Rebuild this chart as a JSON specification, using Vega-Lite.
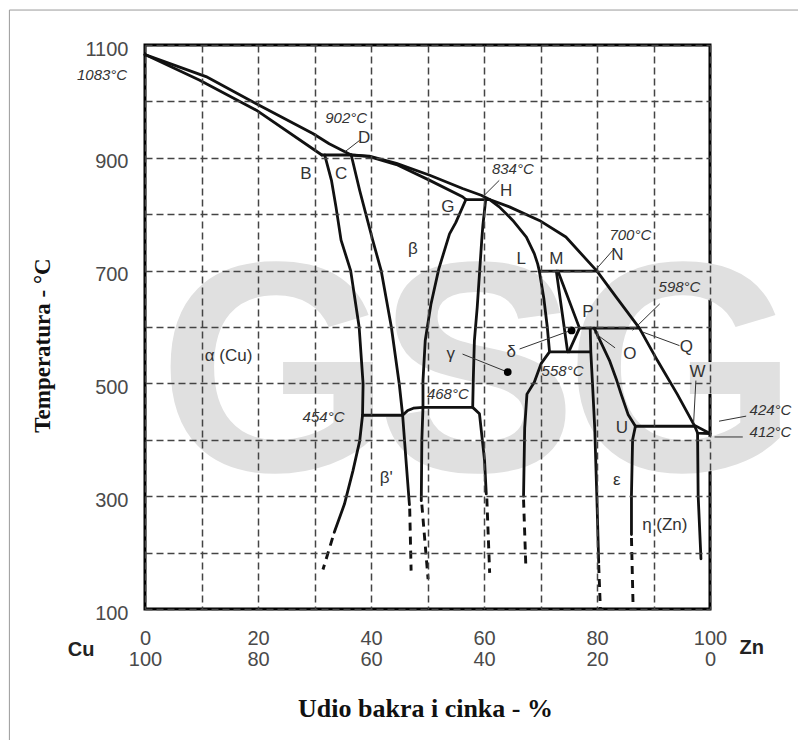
{
 "$schema": "https://vega.github.io/schema/vega-lite/v6.json",
 "width": 565,
 "height": 564,
 "autosize": {"type": "none"},
 "padding": {"left": 145, "top": 45, "right": 88, "bottom": 131},
 "background": "#ffffff",
 "config": {"view": {"stroke": "#000000", "strokeWidth": 3}, "text": {"font": "Liberation Sans"}},
 "datasets": {
  "wm": [{"ch": "G", "x": 23.0, "t": 345}, {"ch": "S", "x": 58.8, "t": 345}, {"ch": "G", "x": 95.0, "t": 345}],
  "border": [{"x": -24, "x2": 125, "t": 1162, "t2": -250}],
  "solid": [
   {"id": "liq", "o": 0, "x": 0, "t": 1083}, {"id": "liq", "o": 1, "x": 10.8, "t": 1044}, {"id": "liq", "o": 2, "x": 19.7, "t": 996}, {"id": "liq", "o": 3, "x": 29.7, "t": 943}, {"id": "liq", "o": 4, "x": 32.6, "t": 925}, {"id": "liq", "o": 5, "x": 36.5, "t": 905}, {"id": "liq", "o": 6, "x": 39.7, "t": 903}, {"id": "liq", "o": 7, "x": 44.5, "t": 890}, {"id": "liq", "o": 8, "x": 50.4, "t": 869}, {"id": "liq", "o": 9, "x": 56.2, "t": 845.5}, {"id": "liq", "o": 10, "x": 59.5, "t": 833.6}, {"id": "liq", "o": 11, "x": 61.0, "t": 826}, {"id": "liq", "o": 12, "x": 64.5, "t": 813}, {"id": "liq", "o": 13, "x": 69.8, "t": 789}, {"id": "liq", "o": 14, "x": 74.5, "t": 759.5}, {"id": "liq", "o": 15, "x": 80.0, "t": 699}, {"id": "liq", "o": 16, "x": 83.4, "t": 653}, {"id": "liq", "o": 17, "x": 87.5, "t": 598}, {"id": "liq", "o": 18, "x": 90.7, "t": 540.5}, {"id": "liq", "o": 19, "x": 94.2, "t": 481}, {"id": "liq", "o": 20, "x": 97.2, "t": 426}, {"id": "liq", "o": 21, "x": 100, "t": 411},
   {"id": "sa", "o": 0, "x": 0, "t": 1083}, {"id": "sa", "o": 1, "x": 9.6, "t": 1038}, {"id": "sa", "o": 2, "x": 19.7, "t": 984.5}, {"id": "sa", "o": 3, "x": 31.3, "t": 905},
   {"id": "h902", "o": 0, "x": 31.3, "t": 905}, {"id": "h902", "o": 1, "x": 36.5, "t": 905},
   {"id": "sb", "o": 0, "x": 36.5, "t": 905}, {"id": "sb", "o": 1, "x": 39.7, "t": 902}, {"id": "sb", "o": 2, "x": 44.5, "t": 888}, {"id": "sb", "o": 3, "x": 50.4, "t": 860}, {"id": "sb", "o": 4, "x": 56.2, "t": 831}, {"id": "sb", "o": 5, "x": 56.8, "t": 826},
   {"id": "ab", "o": 0, "x": 31.8, "t": 905}, {"id": "ab", "o": 1, "x": 33.0, "t": 860}, {"id": "ab", "o": 2, "x": 33.8, "t": 813}, {"id": "ab", "o": 3, "x": 34.7, "t": 754}, {"id": "ab", "o": 4, "x": 36.4, "t": 700}, {"id": "ab", "o": 5, "x": 37.9, "t": 600}, {"id": "ab", "o": 6, "x": 38.6, "t": 499}, {"id": "ab", "o": 7, "x": 38.5, "t": 443.5}, {"id": "ab", "o": 8, "x": 38.0, "t": 398}, {"id": "ab", "o": 9, "x": 36.8, "t": 345}, {"id": "ab", "o": 10, "x": 35.3, "t": 286}, {"id": "ab", "o": 11, "x": 33.5, "t": 236},
   {"id": "cb", "o": 0, "x": 36.5, "t": 905}, {"id": "cb", "o": 1, "x": 38.0, "t": 842}, {"id": "cb", "o": 2, "x": 40.3, "t": 754}, {"id": "cb", "o": 3, "x": 41.8, "t": 700}, {"id": "cb", "o": 4, "x": 43.6, "t": 600}, {"id": "cb", "o": 5, "x": 45.0, "t": 499}, {"id": "cb", "o": 6, "x": 45.6, "t": 443.5}, {"id": "cb", "o": 7, "x": 46.2, "t": 363}, {"id": "cb", "o": 8, "x": 46.8, "t": 285},
   {"id": "h454", "o": 0, "x": 38.5, "t": 443.5}, {"id": "h454", "o": 1, "x": 45.6, "t": 443.5}, {"id": "h454", "o": 2, "x": 46.5, "t": 452}, {"id": "h454", "o": 3, "x": 47.5, "t": 456}, {"id": "h454", "o": 4, "x": 49.2, "t": 457.5}, {"id": "h454", "o": 5, "x": 58.0, "t": 457.5},
   {"id": "gb", "o": 0, "x": 56.8, "t": 826}, {"id": "gb", "o": 1, "x": 55.0, "t": 785}, {"id": "gb", "o": 2, "x": 53.9, "t": 765}, {"id": "gb", "o": 3, "x": 52.0, "t": 703}, {"id": "gb", "o": 4, "x": 50.6, "t": 640}, {"id": "gb", "o": 5, "x": 49.6, "t": 576}, {"id": "gb", "o": 6, "x": 49.2, "t": 505}, {"id": "gb", "o": 7, "x": 49.2, "t": 457.5}, {"id": "gb", "o": 8, "x": 49.0, "t": 400}, {"id": "gb", "o": 9, "x": 48.9, "t": 292},
   {"id": "gl", "o": 0, "x": 60.3, "t": 826}, {"id": "gl", "o": 1, "x": 59.8, "t": 780}, {"id": "gl", "o": 2, "x": 59.6, "t": 754}, {"id": "gl", "o": 3, "x": 59.2, "t": 694.5}, {"id": "gl", "o": 4, "x": 58.8, "t": 635}, {"id": "gl", "o": 5, "x": 58.3, "t": 576}, {"id": "gl", "o": 6, "x": 58.1, "t": 505}, {"id": "gl", "o": 7, "x": 58.0, "t": 457.5}, {"id": "gl", "o": 8, "x": 59.2, "t": 446}, {"id": "gl", "o": 9, "x": 60.1, "t": 363}, {"id": "gl", "o": 10, "x": 60.4, "t": 304},
   {"id": "hGH", "o": 0, "x": 56.8, "t": 826}, {"id": "hGH", "o": 1, "x": 61.0, "t": 826},
   {"id": "gr", "o": 0, "x": 61.0, "t": 826}, {"id": "gr", "o": 1, "x": 62.7, "t": 813}, {"id": "gr", "o": 2, "x": 65.1, "t": 789}, {"id": "gr", "o": 3, "x": 67.5, "t": 759.5}, {"id": "gr", "o": 4, "x": 68.9, "t": 730}, {"id": "gr", "o": 5, "x": 69.5, "t": 712}, {"id": "gr", "o": 6, "x": 69.8, "t": 699}, {"id": "gr", "o": 7, "x": 70.6, "t": 650}, {"id": "gr", "o": 8, "x": 71.2, "t": 600}, {"id": "gr", "o": 9, "x": 71.6, "t": 556}, {"id": "gr", "o": 10, "x": 70.1, "t": 535}, {"id": "gr", "o": 11, "x": 68.9, "t": 502}, {"id": "gr", "o": 12, "x": 67.6, "t": 481}, {"id": "gr", "o": 13, "x": 67.2, "t": 421}, {"id": "gr", "o": 14, "x": 67.0, "t": 300},
   {"id": "h700", "o": 0, "x": 69.8, "t": 699}, {"id": "h700", "o": 1, "x": 80.0, "t": 699},
   {"id": "m1", "o": 0, "x": 72.8, "t": 699}, {"id": "m1", "o": 1, "x": 74.8, "t": 556},
   {"id": "m2", "o": 0, "x": 73.1, "t": 699}, {"id": "m2", "o": 1, "x": 76.9, "t": 598},
   {"id": "h598", "o": 0, "x": 76.9, "t": 598}, {"id": "h598", "o": 1, "x": 87.5, "t": 598},
   {"id": "p1", "o": 0, "x": 76.9, "t": 598}, {"id": "p1", "o": 1, "x": 75.0, "t": 556},
   {"id": "h558", "o": 0, "x": 71.6, "t": 556}, {"id": "h558", "o": 1, "x": 78.8, "t": 556},
   {"id": "el", "o": 0, "x": 78.8, "t": 598}, {"id": "el", "o": 1, "x": 78.9, "t": 556}, {"id": "el", "o": 2, "x": 79.2, "t": 500}, {"id": "el", "o": 3, "x": 79.6, "t": 421}, {"id": "el", "o": 4, "x": 80.0, "t": 290}, {"id": "el", "o": 5, "x": 80.3, "t": 183},
   {"id": "ed", "o": 0, "x": 79.5, "t": 598}, {"id": "ed", "o": 1, "x": 82.2, "t": 541}, {"id": "ed", "o": 2, "x": 83.5, "t": 505}, {"id": "ed", "o": 3, "x": 84.3, "t": 480}, {"id": "ed", "o": 4, "x": 85.5, "t": 445}, {"id": "ed", "o": 5, "x": 86.8, "t": 424},
   {"id": "hU", "o": 0, "x": 86.8, "t": 424}, {"id": "hU", "o": 1, "x": 97.3, "t": 424},
   {"id": "er", "o": 0, "x": 86.8, "t": 424}, {"id": "er", "o": 1, "x": 86.3, "t": 400}, {"id": "er", "o": 2, "x": 86.1, "t": 302}, {"id": "er", "o": 3, "x": 86.1, "t": 232},
   {"id": "zt", "o": 0, "x": 97.3, "t": 424}, {"id": "zt", "o": 1, "x": 97.8, "t": 412}, {"id": "zt", "o": 2, "x": 100, "t": 411},
   {"id": "eta", "o": 0, "x": 97.8, "t": 412}, {"id": "eta", "o": 1, "x": 97.9, "t": 302}, {"id": "eta", "o": 2, "x": 98.4, "t": 189}
  ],
  "dashed": [
   {"id": "d1", "o": 0, "x": 33.2, "t": 226}, {"id": "d1", "o": 1, "x": 31.5, "t": 170},
   {"id": "d2", "o": 0, "x": 46.85, "t": 278}, {"id": "d2", "o": 1, "x": 47.1, "t": 168},
   {"id": "d3", "o": 0, "x": 49.0, "t": 285}, {"id": "d3", "o": 1, "x": 50.1, "t": 153},
   {"id": "d4", "o": 0, "x": 60.5, "t": 296}, {"id": "d4", "o": 1, "x": 61.0, "t": 164},
   {"id": "d5", "o": 0, "x": 67.0, "t": 294}, {"id": "d5", "o": 1, "x": 67.4, "t": 177},
   {"id": "d6", "o": 0, "x": 80.3, "t": 178}, {"id": "d6", "o": 1, "x": 80.6, "t": 100},
   {"id": "d7", "o": 0, "x": 86.1, "t": 226}, {"id": "d7", "o": 1, "x": 86.4, "t": 100}
  ],
  "leaders": [
   {"id": "lD", "o": 0, "x": 38.0, "t": 931}, {"id": "lD", "o": 1, "x": 35.3, "t": 910},
   {"id": "lH", "o": 0, "x": 62.7, "t": 860}, {"id": "lH", "o": 1, "x": 59.8, "t": 831},
   {"id": "lN", "o": 0, "x": 82.8, "t": 736}, {"id": "lN", "o": 1, "x": 79.9, "t": 703},
   {"id": "l598", "o": 0, "x": 91.1, "t": 641}, {"id": "l598", "o": 1, "x": 86.3, "t": 594},
   {"id": "lQ", "o": 0, "x": 88.1, "t": 591}, {"id": "lQ", "o": 1, "x": 94.6, "t": 567},
   {"id": "lO", "o": 0, "x": 79.5, "t": 590}, {"id": "lO", "o": 1, "x": 83.2, "t": 563},
   {"id": "ld", "o": 0, "x": 66.3, "t": 561}, {"id": "ld", "o": 1, "x": 75.4, "t": 594},
   {"id": "lg", "o": 0, "x": 56.2, "t": 552}, {"id": "lg", "o": 1, "x": 64.2, "t": 520},
   {"id": "lW", "o": 0, "x": 97.5, "t": 505}, {"id": "lW", "o": 1, "x": 97.1, "t": 430},
   {"id": "l424", "o": 0, "x": 101.6, "t": 433}, {"id": "l424", "o": 1, "x": 106.4, "t": 442},
   {"id": "l412", "o": 0, "x": 100.8, "t": 405}, {"id": "l412", "o": 1, "x": 105.8, "t": 405}
  ],
  "dots": [{"x": 64.2, "t": 520}, {"x": 75.5, "t": 594}],
  "letters": [
   {"label": "B", "x": 28.5, "t": 872}, {"label": "C", "x": 34.7, "t": 872}, {"label": "D", "x": 38.8, "t": 935},
   {"label": "G", "x": 53.6, "t": 813}, {"label": "H", "x": 63.9, "t": 842}, {"label": "L", "x": 66.6, "t": 721},
   {"label": "M", "x": 72.8, "t": 721}, {"label": "N", "x": 83.6, "t": 727}, {"label": "P", "x": 78.4, "t": 626},
   {"label": "O", "x": 85.8, "t": 552}, {"label": "Q", "x": 95.8, "t": 564}, {"label": "W", "x": 97.8, "t": 520},
   {"label": "U", "x": 84.4, "t": 421.5}, {"label": "β", "x": 47.4, "t": 739}, {"label": "γ", "x": 54.1, "t": 552},
   {"label": "δ", "x": 64.8, "t": 555}, {"label": "α (Cu)", "x": 14.8, "t": 549}, {"label": "β'", "x": 42.7, "t": 333},
   {"label": "ε", "x": 83.5, "t": 329}, {"label": "η (Zn)", "x": 92.0, "t": 249}
  ],
  "temps": [
   {"label": "902°C", "x": 35.6, "t": 970}, {"label": "834°C", "x": 65.1, "t": 881}, {"label": "700°C", "x": 85.9, "t": 762.5},
   {"label": "598°C", "x": 94.6, "t": 670.7}, {"label": "558°C", "x": 73.9, "t": 522.7}, {"label": "454°C", "x": 31.6, "t": 441},
   {"label": "468°C", "x": 53.6, "t": 481.3}, {"label": "424°C", "x": 110.7, "t": 452}, {"label": "412°C", "x": 110.7, "t": 414},
   {"label": "1083°C", "x": -7.6, "t": 1046}
  ],
  "ends": [{"label": "Cu", "x": -11.3, "t": 27}, {"label": "Zn", "x": 107.4, "t": 30}]
 },
 "encoding": {
  "x": {
   "field": "x", "type": "quantitative",
   "scale": {"domain": [0, 100], "nice": false, "zero": false},
   "axis": {
    "values": [0, 10, 20, 30, 40, 50, 60, 70, 80, 90, 100],
    "labelExpr": "datum.value % 20 == 0 ? [format(datum.value, 'd'), format(100 - datum.value, 'd')] : ''",
    "ticks": false, "domain": false, "grid": true,
    "gridDash": [7, 4], "gridColor": "#444444", "gridWidth": 1.5,
    "labelFont": "Liberation Sans", "labelFontSize": 20, "labelColor": "#4a4a4a",
    "labelPadding": 19, "labelBaseline": "top", "labelLineHeight": 21,
    "labelFlush": false, "labelOverlap": false,
    "title": "Udio bakra i cinka - %", "titleFont": "Liberation Serif", "titleFontSize": 26,
    "titleFontWeight": "bold", "titleColor": "#111111", "titleX": 280, "titleY": 99,
    "titleBaseline": "middle", "titleAlign": "center", "zindex": 1
   }
  },
  "y": {
   "field": "t", "type": "quantitative",
   "scale": {"domain": [100, 1100], "nice": false, "zero": false},
   "axis": {
    "values": [100, 200, 300, 400, 500, 600, 700, 800, 900, 1000, 1100],
    "labelExpr": "datum.value % 200 == 100 ? format(datum.value, 'd') : ''",
    "ticks": false, "domain": false, "grid": true,
    "gridDash": [7, 4], "gridColor": "#444444", "gridWidth": 1.5,
    "labelFont": "Liberation Sans", "labelFontSize": 20, "labelColor": "#4a4a4a",
    "labelPadding": 17, "labelOffset": 4, "labelFlush": false, "labelOverlap": false,
    "title": "Temperatura - °C", "titleFont": "Liberation Serif", "titleFontSize": 23,
    "titleFontWeight": "bold", "titleColor": "#111111", "titleAngle": 270,
    "titleX": -103, "titleY": 300, "titleBaseline": "middle", "titleAlign": "center", "zindex": 1
   }
  }
 },
 "layer": [
  {"data": {"name": "border"}, "mark": {"type": "rect", "fillOpacity": 0, "stroke": "#9a9a9a", "strokeWidth": 1}, "encoding": {"x2": {"field": "x2"}, "y2": {"field": "t2"}}},
  {"data": {"name": "wm"}, "mark": {"type": "text", "font": "Liberation Sans", "fontSize": 300, "fontWeight": "bold", "fill": "#e0e0e0", "align": "center", "baseline": "alphabetic"}, "encoding": {"text": {"field": "ch"}}},
  {"data": {"name": "solid"}, "mark": {"type": "line", "stroke": "#111111", "strokeWidth": 2.8, "strokeJoin": "round", "strokeCap": "round"}, "encoding": {"detail": {"field": "id"}, "order": {"field": "o"}}},
  {"data": {"name": "dashed"}, "mark": {"type": "line", "stroke": "#111111", "strokeWidth": 2.9, "strokeDash": [8, 6]}, "encoding": {"detail": {"field": "id"}, "order": {"field": "o"}}},
  {"data": {"name": "leaders"}, "mark": {"type": "line", "stroke": "#333333", "strokeWidth": 1}, "encoding": {"detail": {"field": "id"}, "order": {"field": "o"}}},
  {"data": {"name": "dots"}, "mark": {"type": "point", "filled": true, "fill": "#000000", "size": 60, "opacity": 1}},
  {"data": {"name": "letters"}, "mark": {"type": "text", "fontSize": 17, "fill": "#333333", "align": "center", "baseline": "middle"}, "encoding": {"text": {"field": "label"}}},
  {"data": {"name": "temps"}, "mark": {"type": "text", "fontSize": 15, "fontStyle": "italic", "fill": "#333333", "align": "center", "baseline": "middle"}, "encoding": {"text": {"field": "label"}}},
  {"data": {"name": "ends"}, "mark": {"type": "text", "fontSize": 20, "fontWeight": "bold", "fill": "#222222", "align": "center", "baseline": "middle"}, "encoding": {"text": {"field": "label"}}}
 ]
}
